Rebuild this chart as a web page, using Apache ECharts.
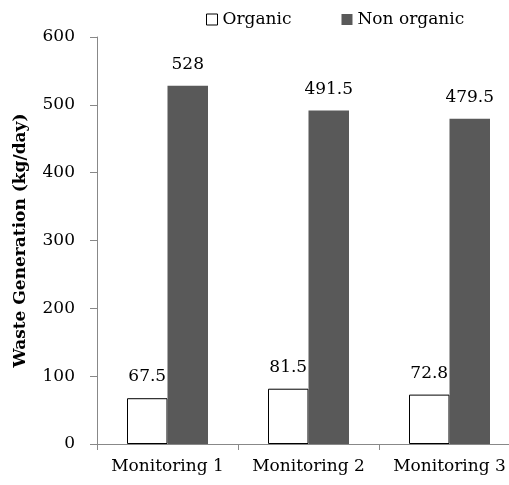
<!DOCTYPE html>
<html>
<head>
<meta charset="utf-8">
<script src="https://cdn.jsdelivr.net/npm/echarts@6/dist/echarts.min.js"></script>
<style>html,body{margin:0;padding:0;background:#fff;overflow:hidden;width:509px;height:485px}#c{width:520px;height:485px}</style>
</head>
<body>
<div id="c"></div>
<script>
const categories = ['Monitoring 1', 'Monitoring 2', 'Monitoring 3'];
const organic = [67.5, 81.5, 72.8];
const nonOrganic = [528, 491.5, 479.5];
const yTicks = [0, 100, 200, 300, 400, 500, 600];

const FONT = 'DejaVu Serif';
const chart = echarts.init(document.getElementById('c'));
chart.setOption({
  animation: false,
  textStyle: { fontFamily: FONT, color: '#000' },
  legend: {
    top: 6, left: 201, itemGap: 50, itemWidth: 11, itemHeight: 11,
    textStyle: { fontFamily: FONT, fontSize: 17, color: '#000' },
    data: [
      { name: 'Organic', icon: 'rect', itemStyle: { color: '#fff', borderColor: '#000', borderWidth: 1 } },
      { name: 'Non organic', icon: 'rect', itemStyle: { color: '#595959' } }
    ]
  },
  grid: { left: 97, top: 37, bottom: 41, right: 0, containLabel: false },
  xAxis: {
    type: 'category', data: categories,
    axisLine: { lineStyle: { color: '#888', width: 1 } },
    axisTick: { show: true, length: 6, lineStyle: { color: '#888' } },
    axisLabel: { fontFamily: FONT, fontSize: 17, color: '#000', margin: 14, interval: 0 }
  },
  yAxis: {
    type: 'value', min: yTicks[0], max: yTicks[yTicks.length - 1], interval: 100,
    name: 'Waste Generation (kg/day)', nameLocation: 'middle', nameGap: 68,
    nameTextStyle: { fontFamily: FONT, fontSize: 17, fontWeight: 'bold', color: '#000' },
    axisLine: { show: true, lineStyle: { color: '#888', width: 1 } },
    axisTick: { show: true, length: 7, lineStyle: { color: '#888' } },
    splitLine: { show: false },
    axisLabel: { fontFamily: FONT, fontSize: 17, color: '#000', margin: 22 }
  },
  series: [
    {
      name: 'Organic', type: 'bar', data: organic, barWidth: 40.5, barGap: '0%',
      itemStyle: { color: '#fff', borderColor: '#000', borderWidth: 1 },
      label: { show: true, position: 'top', distance: 13, fontFamily: FONT, fontSize: 17, color: '#000' }
    },
    {
      name: 'Non organic', type: 'bar', data: nonOrganic, barWidth: 40.5, barGap: '0%',
      itemStyle: { color: '#595959' },
      label: { show: true, position: 'top', distance: 13, fontFamily: FONT, fontSize: 17, color: '#000' }
    }
  ]
});
</script>
</body>
</html>
